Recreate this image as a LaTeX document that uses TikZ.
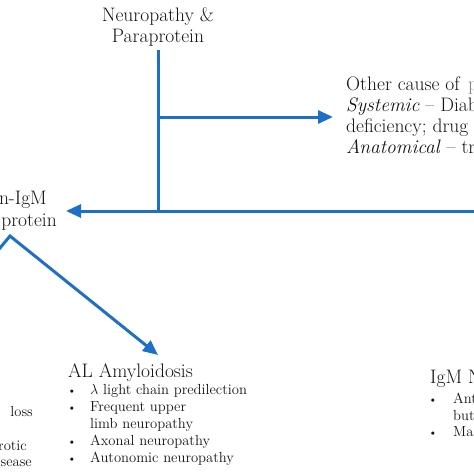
\documentclass[tikz,border=0pt]{standalone}
\usetikzlibrary{arrows.meta}
\definecolor{flowblue}{RGB}{30,112,198}
\definecolor{inkc}{RGB}{20,20,20}
\tikzset{
  flow/.style={draw=flowblue, line width=3pt},
  flowarrow/.style={flow, -{Triangle[length=15pt,width=13pt]}},
  bigtext/.style={inner sep=0pt, text=inkc, font=\fontsize{19.5}{21}\selectfont},
  smalltext/.style={inner sep=0pt, text=inkc, font=\fontsize{14.6}{17}\selectfont},
  bulletmark/.style={inner sep=0pt, text=inkc, font=\fontsize{12}{13}\selectfont},
}
\begin{document}
\begin{tikzpicture}[x=1pt,y=-1pt]
\useasboundingbox (0,0) rectangle (474,474);
\clip (0,0) rectangle (474,474);

% top node
\node[bigtext, anchor=base] (np1) at (158,21) {Neuropathy \&};
\node[bigtext, anchor=base] (np2) at (158,42) {Paraprotein};

% other cause block (cut at right edge)
\node[bigtext, anchor=base west] (oc1) at (346,90) {Other cause of};
\node[bigtext, anchor=base west, text=gray] (oc1b) at (468,90) {p};
\node[bigtext, anchor=base west] (oc2) at (346,111) {\textit{Systemic} -- Diabe};
\node[bigtext, anchor=base west] (oc3) at (346,132) {deficiency; drug};
\node[bigtext, anchor=base west] (oc4) at (346,153) {\textit{Anatomical} -- tran};

% non-IgM (cut at left edge)
\node[bigtext, anchor=base east] (ni1) at (47,204) {n-IgM};
\node[bigtext, anchor=base east] (ni2) at (57,226) {protein};

% left column fragments
\node[smalltext, anchor=base east] (lc1) at (33,416) {loss};
\node[smalltext, anchor=base east] (lc2) at (27,450) {rotic};
\node[smalltext, anchor=base east] (lc3) at (32,466) {sease};

% AL amyloidosis
\node[bigtext, anchor=base west] (al) at (68,377) {AL Amyloidosis};
\node[bulletmark, anchor=base] (b1) at (72,394) {\textbullet};
\node[smalltext, anchor=base west] (al1) at (90,394) {$\lambda$ light chain predilection};
\node[bulletmark, anchor=base] (b2) at (72,411) {\textbullet};
\node[smalltext, anchor=base west] (al2) at (90,411) {Frequent upper};
\node[smalltext, anchor=base west] (al2b) at (90,428) {limb neuropathy};
\node[bulletmark, anchor=base] (b3) at (72,445) {\textbullet};
\node[smalltext, anchor=base west] (al3) at (90,445) {Axonal neuropathy};
\node[bulletmark, anchor=base] (b4) at (72,462) {\textbullet};
\node[smalltext, anchor=base west] (al4) at (90,462) {Autonomic neuropathy};

% IgM block (cut at right edge)
\node[bigtext, anchor=base west] (ig) at (430,383) {IgM N};
\node[bulletmark, anchor=base] (ib1) at (433,403) {\textbullet};
\node[smalltext, anchor=base west] (ig1) at (453,403) {Ant};
\node[smalltext, anchor=base west] (ig1b) at (453,420) {but};
\node[bulletmark, anchor=base] (ib2) at (433,436) {\textbullet};
\node[smalltext, anchor=base west] (ig2) at (453,436) {Ma};

% connectors
\coordinate (vtop) at (158,50);
\coordinate (j1) at (158,117);
\coordinate (j2) at (158,211);
\coordinate (octip) at (333,117);
\coordinate (rightend) at (480,211);
\coordinate (nitip) at (66,211);
\coordinate (legL) at (-10,260);
\coordinate (peak) at (10,236);
\coordinate (altip) at (158,355);

\draw[flow] (vtop) -- (j2);
\draw[flowarrow] (j1) -- (octip);
\draw[flowarrow] (rightend) -- (nitip);
\draw[flowarrow] (legL) -- (peak) -- (altip);
\end{tikzpicture}
\end{document}
